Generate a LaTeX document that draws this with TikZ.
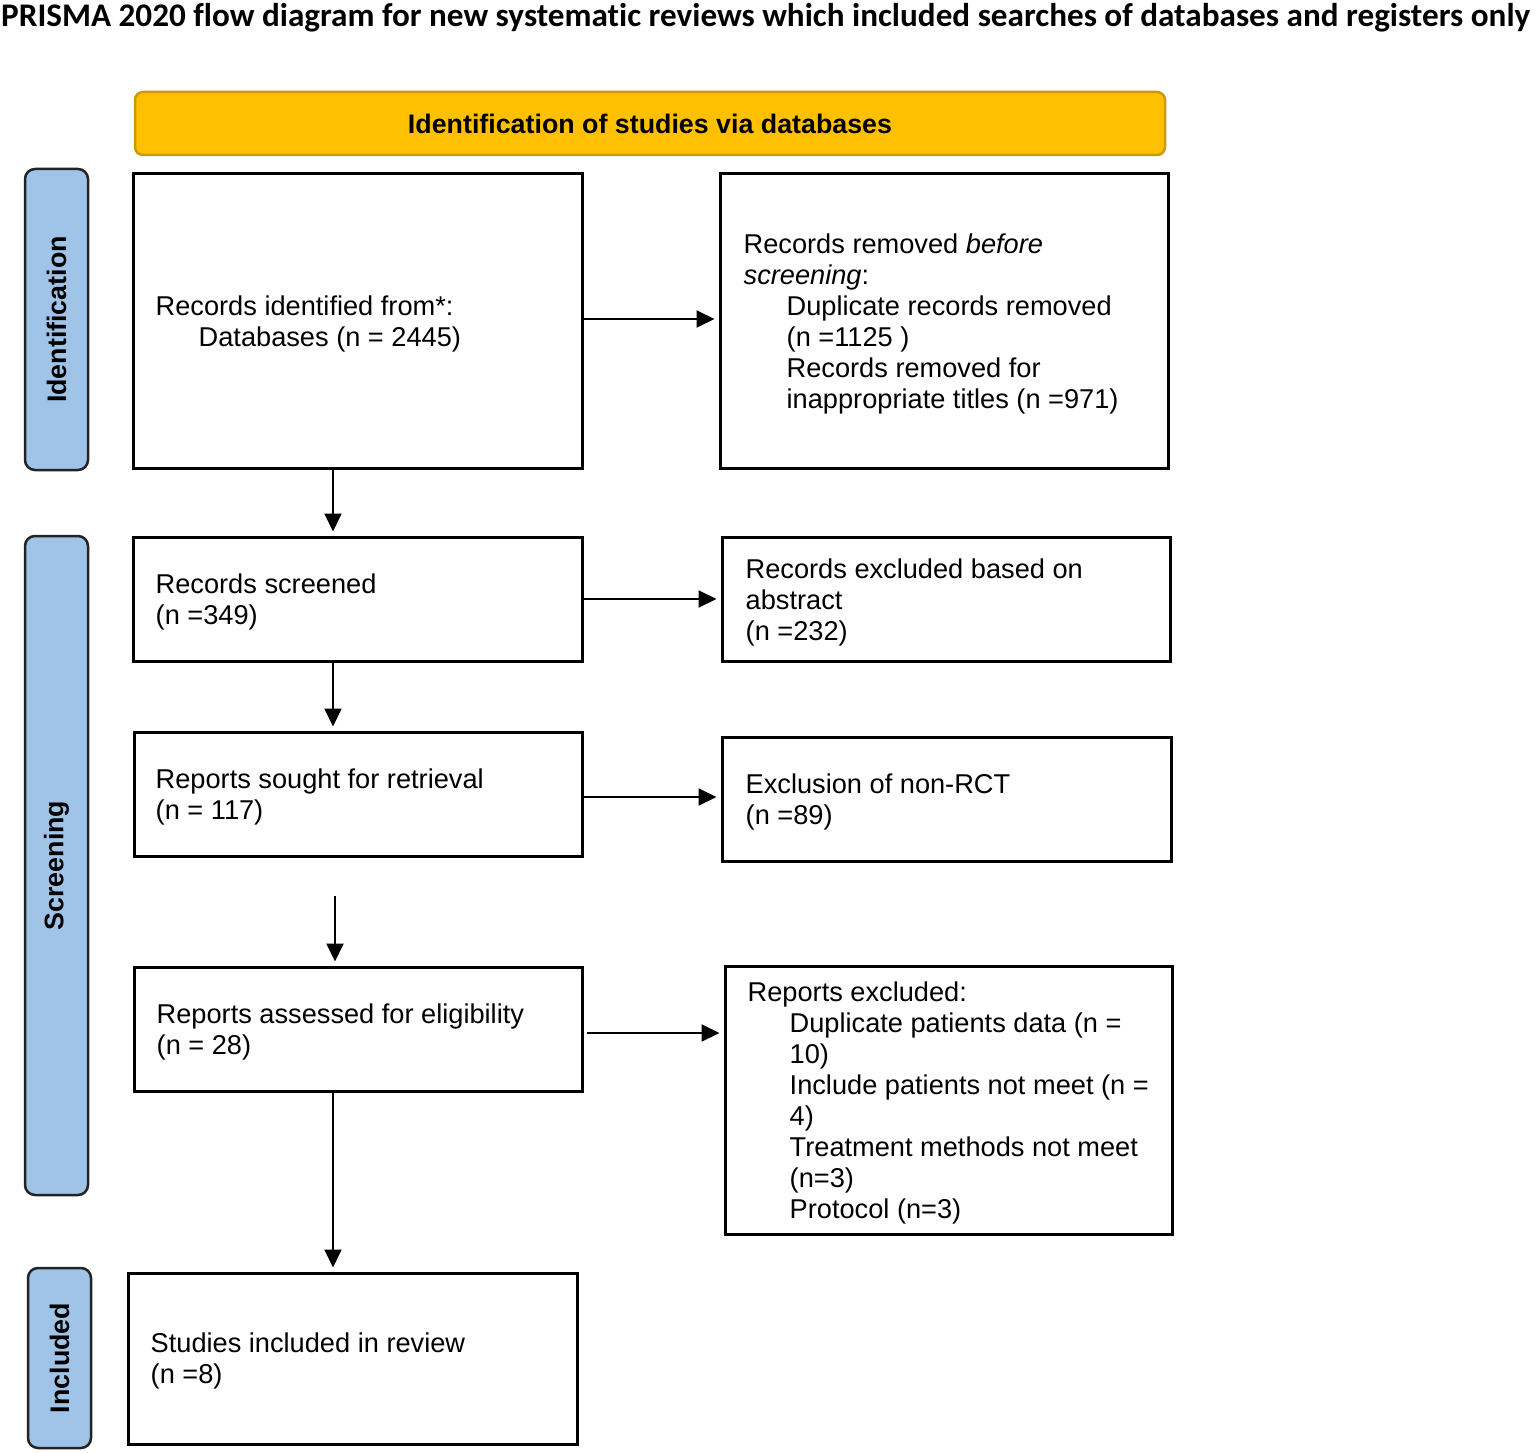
\documentclass[tikz,border=0pt]{standalone}
\usepackage{fontspec}
\setmainfont{Liberation Sans}
\newfontfamily\titlefont[Ligatures={NoCommon}]{Carlito}
\usetikzlibrary{arrows.meta}
\definecolor{hdrfill}{RGB}{255,192,0}
\definecolor{hdrline}{RGB}{205,155,0}
\definecolor{sidefill}{RGB}{160,196,232}
\definecolor{sideline}{RGB}{35,35,35}
\begin{document}
\begin{tikzpicture}[x=1pt,y=-1pt,
  box/.style={draw, line width=3pt, inner sep=0pt},
  txt/.style={anchor=west, align=left, inner sep=0pt, font=\fontsize{27.2}{31}\selectfont},
  side/.style={draw=sideline, fill=sidefill, line width=2.5pt, rounded corners=10pt, inner sep=0pt},
  sidetxt/.style={rotate=90, inner sep=0pt, font=\fontsize{26.8}{31}\selectfont\bfseries},
  arr/.style={line width=2pt, shorten >=4pt, -{Triangle[length=18pt,width=17pt]}}]
\useasboundingbox (0,0) rectangle (1535,1453);

% title
\node[anchor=base west, inner sep=0pt] (title) at (1,27)
  {\resizebox{1529pt}{\height}{\titlefont\bfseries\fontsize{33}{36}\selectfont PRISMA 2020 flow diagram for new systematic reviews which included searches of databases and registers only}};

% header
\node[draw=hdrline, fill=hdrfill, line width=2.5pt, rounded corners=8pt, minimum width=1030pt, minimum height=63pt, inner sep=0pt,
  font=\fontsize{26.8}{31}\selectfont\bfseries] (hdr) at (650,123.5) {Identification of studies via databases};

% side labels
\node[side, minimum width=63pt, minimum height=301pt] (sid) at (56.5,319.5) {};
\node[sidetxt] (sidt) at (sid.center) {Identification};
\node[side, minimum width=63pt, minimum height=659pt] (sscr) at (56.5,865.5) {};
\node[sidetxt] (sscrt) at (sscr.center) {Screening};
\node[side, minimum width=63pt, minimum height=180pt] (sinc) at (59.5,1358) {};
\node[sidetxt] (sinct) at (sinc.center) {Included};

% boxes
\node[box, minimum width=449pt, minimum height=294pt] (A) at (357.5,321) {};
\node[box, minimum width=448pt, minimum height=294pt] (B) at (944,321) {};
\node[box, minimum width=449pt, minimum height=124pt] (C) at (357.5,599) {};
\node[box, minimum width=448pt, minimum height=124pt] (D) at (946,599) {};
\node[box, minimum width=448pt, minimum height=124pt] (E) at (358,794) {};
\node[box, minimum width=449pt, minimum height=124pt] (F) at (946.5,799) {};
\node[box, minimum width=448pt, minimum height=124pt] (G) at (358,1029) {};
\node[box, minimum width=447pt, minimum height=268pt] (H) at (948.5,1100) {};
\node[box, minimum width=449pt, minimum height=171pt] (I) at (352.5,1358.5) {};

% texts
\node[txt] (At) at ([xshift=24pt,yshift=-3pt]A.west) {Records identified from*:\\\hspace*{43pt}Databases (n = 2445)};
\node[txt] (Bt) at ([xshift=25pt,yshift=-3pt]B.west) {Records removed \textit{before}\\\textit{screening}:\\
  \hspace*{43pt}Duplicate records removed\\\hspace*{43pt}(n =1125 )\\
  \hspace*{43pt}Records removed for\\\hspace*{43pt}inappropriate titles (n =971)};
\node[txt] (Ct) at ([xshift=24pt,yshift=-3pt]C.west) {Records screened\\(n =349)};
\node[txt] (Dt) at ([xshift=25pt,yshift=-3pt]D.west) {Records excluded based on\\abstract\\(n =232)};
\node[txt] (Et) at ([xshift=23pt,yshift=-3pt]E.west) {Reports sought for retrieval\\(n = 117)};
\node[txt] (Ft) at ([xshift=25pt,yshift=-3pt]F.west) {Exclusion of non-RCT\\(n =89)};
\node[txt] (Gt) at ([xshift=24pt,yshift=-3pt]G.west) {Reports assessed for eligibility\\(n = 28)};
\node[txt] (Ht) at ([xshift=24pt,yshift=-3pt]H.west) {Reports excluded:\\
  \hspace*{42pt}Duplicate patients data (n =\\\hspace*{42pt}10)\\
  \hspace*{42pt}Include patients not meet (n =\\\hspace*{42pt}4)\\
  \hspace*{42pt}Treatment methods not meet\\\hspace*{42pt}(n=3)\\
  \hspace*{42pt}Protocol (n=3)};
\node[txt] (It) at ([xshift=24pt,yshift=-2pt]I.west) {Studies included in review\\(n =8)};

% connectors
\coordinate (xl) at (333,0);
\coordinate (ab) at (0,319);
\coordinate (ef) at (0,797);
\coordinate (eg) at (335,896);
\coordinate (gh) at (587,1033);
\draw[arr] (A.east |- ab) -- (B.west |- ab);
\draw[arr] (A.south -| xl) -- (C.north -| xl);
\draw[arr] (C.east) -- (C.east -| D.west);
\draw[arr] (C.south -| xl) -- (E.north -| xl);
\draw[arr] (E.east |- ef) -- (F.west |- ef);
\draw[arr] (eg) -- (G.north -| eg);
\draw[arr] (gh) -- (H.west |- gh);
\draw[arr] (G.south -| xl) -- (I.north -| xl);
\end{tikzpicture}
\end{document}
